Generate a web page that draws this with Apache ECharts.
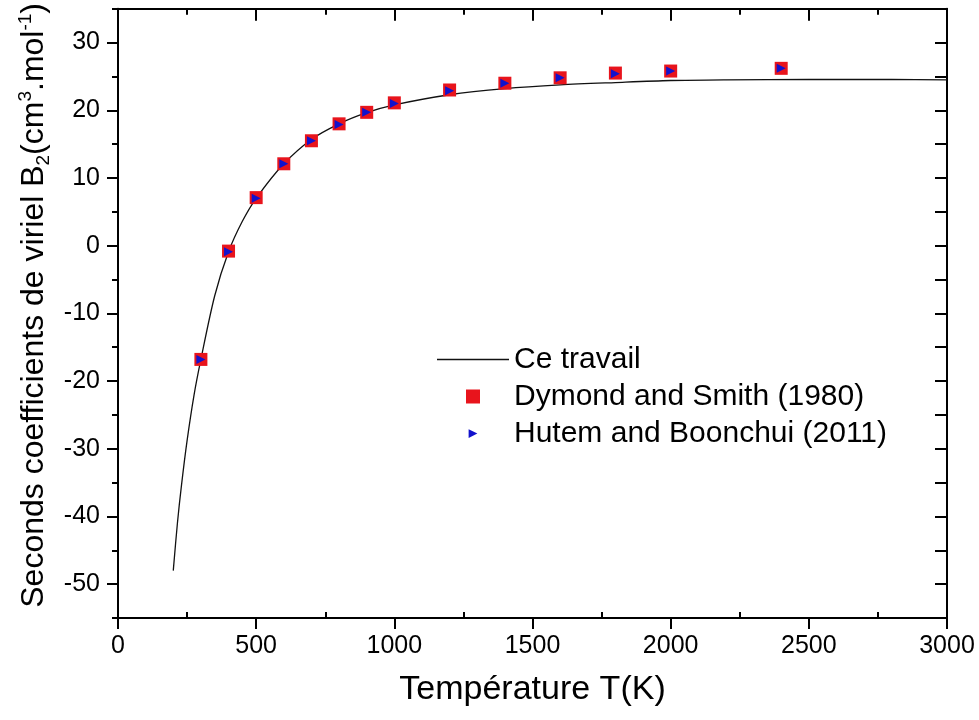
<!DOCTYPE html>
<html>
<head>
<meta charset="utf-8">
<script src="https://cdn.jsdelivr.net/npm/echarts@6/dist/echarts.min.js"></script>
<style>
  html, body { margin: 0; padding: 0; background: #fff; }
  #chart { width: 979px; height: 720px; }
</style>
</head>
<body>
<div id="chart"></div>
<script>
// courbe "Ce travail"
var curveT = [200, 215, 230, 250, 275, 300, 350, 400, 450, 500, 600, 700, 800, 900, 1000, 1200, 1400, 1600, 1800, 2000, 2200, 2500, 2800, 3000];
var curveB = [-48, -41.0, -35.3, -28.8, -22.1, -16.8, -7.4, -0.9, 3.6, 7.0, 12.1, 15.7, 18.0, 19.65, 20.8, 22.3, 23.2, 23.75, 24.1, 24.4, 24.5, 24.55, 24.55, 24.5];

// Dymond and Smith (1980)
var dymondT = [300, 400, 500, 600, 700, 800, 900, 1000, 1200, 1400, 1600, 1800, 2000, 2400];
var dymondB = [-16.8, -0.8, 7.1, 12.1, 15.5, 18.0, 19.7, 21.1, 23.0, 24.0, 24.8, 25.5, 25.8, 26.2];

// Hutem and Boonchui (2011)
var hutemT = [300, 400, 500, 600, 700, 800, 900, 1000, 1200, 1400, 1600, 1800, 2000, 2400];
var hutemB = [-16.8, -0.9, 7.0, 12.1, 15.5, 17.9, 19.7, 21.0, 22.9, 24.0, 24.8, 25.4, 25.8, 26.2];

// graduations
var xMinor = [250, 750, 1250, 1750, 2250, 2750];
var yMajor = [-50, -40, -30, -20, -10, 0, 10, 20, 30];
var yMinor = [-55, -45, -35, -25, -15, -5, 5, 15, 25, 35];

var font = 'Liberation Sans, Arial, sans-serif';
var black = '#000';

function zip(a, b) {
    var out = [];
    for (var i = 0; i < a.length; i++) {
        out.push([a[i], b[i]]);
    }
    return out;
}

function plain(v) {
    return String(v);
}

var chart = echarts.init(document.getElementById('chart'));

var option = {
    animation: false,
    backgroundColor: '#fff',
    grid: { left: 118, right: 32, top: 8, bottom: 102 },
    legend: {
        orient: 'vertical',
        left: 432,
        top: 339,
        itemWidth: 72,
        itemHeight: 14,
        itemGap: 6,
        symbolKeepAspect: true,
        textStyle: { fontSize: 30, lineHeight: 31, color: black, fontFamily: font },
        data: [
            { name: 'Ce travail', icon: 'path://M0,0L72,0L72,1.4L0,1.4Z' },
            { name: 'Dymond and Smith (1980)', icon: 'path://M0,0L14,0L14,14L0,14Z' },
            { name: 'Hutem and Boonchui (2011)', icon: 'path://M-3,-3L-3,-3M13,13L13,13M0,0L10,5L0,10Z' }
        ]
    },
    xAxis: [
        {
            type: 'value', position: 'bottom', min: 0, max: 3000, interval: 500,
            name: 'Température T(K)', nameLocation: 'middle', nameGap: 55,
            nameTextStyle: { fontSize: 34, color: black, fontFamily: font },
            axisLine: { show: true, onZero: false, lineStyle: { color: black, width: 2 } },
            axisTick: { show: true, inside: false, length: 11, lineStyle: { color: black, width: 2 } },
            axisLabel: { fontSize: 25, color: black, margin: 16, fontFamily: font, formatter: plain },
            splitLine: { show: false }
        },
        {
            type: 'value', position: 'bottom', min: 0, max: 3000, interval: 250,
            axisLine: { show: false, onZero: false },
            axisTick: { show: true, inside: true, length: 6, customValues: xMinor, lineStyle: { color: black, width: 2 } },
            axisLabel: { show: false },
            splitLine: { show: false }
        },
        {
            type: 'value', position: 'top', min: 0, max: 3000, interval: 500,
            axisLine: { show: true, onZero: false, lineStyle: { color: black, width: 2 } },
            axisTick: { show: true, inside: true, length: 12, lineStyle: { color: black, width: 2 } },
            axisLabel: { show: false },
            splitLine: { show: false }
        },
        {
            type: 'value', position: 'top', min: 0, max: 3000, interval: 250,
            axisLine: { show: false, onZero: false },
            axisTick: { show: true, inside: true, length: 6, customValues: xMinor, lineStyle: { color: black, width: 2 } },
            axisLabel: { show: false },
            splitLine: { show: false }
        }
    ],
    yAxis: [
        {
            type: 'value', position: 'left', min: -55, max: 35, interval: 5,
            name: '{a|Seconds coefficients de viriel B}{b|2}{a|(cm}{c|3}{a|.mol}{c|-1}{a|)}',
            nameLocation: 'middle', nameGap: 53,
            nameTextStyle: {
                fontFamily: font, color: black,
                padding: [0, 0, 0, 16],
                rich: {
                    a: { fontSize: 32, lineHeight: 37, color: black, fontFamily: font },
                    b: { fontSize: 19, lineHeight: 18, verticalAlign: 'bottom', color: black, fontFamily: font },
                    c: { fontSize: 19, lineHeight: 18, verticalAlign: 'top', color: black, fontFamily: font }
                }
            },
            axisLine: { show: true, onZero: false, lineStyle: { color: black, width: 2 } },
            axisTick: { show: true, inside: false, length: 11, customValues: yMajor, lineStyle: { color: black, width: 2 } },
            axisLabel: { fontSize: 25, color: black, margin: 18, customValues: yMajor, fontFamily: font, formatter: plain },
            splitLine: { show: false }
        },
        {
            type: 'value', position: 'left', min: -55, max: 35, interval: 5,
            axisLine: { show: false, onZero: false },
            axisTick: { show: true, inside: false, length: 6, customValues: yMinor, lineStyle: { color: black, width: 2 } },
            axisLabel: { show: false },
            splitLine: { show: false }
        },
        {
            type: 'value', position: 'right', min: -55, max: 35, interval: 5,
            axisLine: { show: true, onZero: false, lineStyle: { color: black, width: 2 } },
            axisTick: { show: true, inside: true, length: 12, lineStyle: { color: black, width: 2 } },
            axisLabel: { show: false },
            splitLine: { show: false }
        }
    ],
    series: [
        {
            name: 'Ce travail',
            type: 'line',
            data: zip(curveT, curveB),
            smooth: 0.3,
            symbol: 'none',
            showSymbol: false,
            lineStyle: { color: '#111', width: 1.3 },
            itemStyle: { color: '#111' },
            z: 2
        },
        {
            name: 'Dymond and Smith (1980)',
            type: 'scatter',
            data: zip(dymondT, dymondB),
            symbol: 'rect',
            symbolSize: 13,
            itemStyle: { color: '#e8141c', opacity: 1 },
            z: 3
        },
        {
            name: 'Hutem and Boonchui (2011)',
            type: 'scatter',
            data: zip(hutemT, hutemB),
            symbol: 'triangle',
            symbolRotate: -90,
            symbolSize: 9,
            itemStyle: { color: '#1212cc', opacity: 1 },
            z: 4
        }
    ]
};

chart.setOption(option);
</script>
</body>
</html>
